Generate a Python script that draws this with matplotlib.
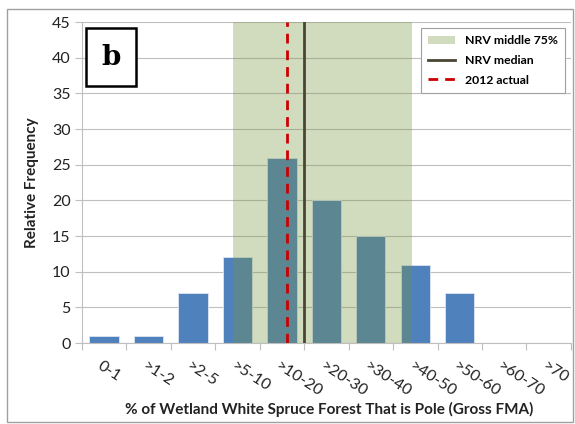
import matplotlib.pyplot as plt
from matplotlib.patches import Patch, Rectangle
from matplotlib.lines import Line2D
import numpy as np

categories = ["0-1", ">1-2", ">2-5", ">5-10", ">10-20", ">20-30", ">30-40",
              ">40-50", ">50-60", ">60-70", ">70"]
frequency = [1, 1, 7, 12, 26, 20, 15, 11, 7, 0, 0]

# NRV range and lines, in category units (bin i centred on i)
nrv_low = 2.91
nrv_high = 6.92
nrv_median = 4.5
actual_2012 = 4.11

plt.rcParams["font.family"] = ["Lato", "DejaVu Sans"]

fig = plt.figure(figsize=(5.75, 4.24), dpi=100)
ax = fig.add_axes([0.142, 0.191, 0.851, 0.757])

x = np.arange(len(categories))
ax.bar(x, frequency, width=0.66, color="#4F81BD", edgecolor="#DCE6F2",
       linewidth=0.6, zorder=2)
ax.axvspan(nrv_low, nrv_high, color="#76923C", alpha=0.33, lw=0, zorder=3)
ax.axvline(nrv_median, color="#4A4532", lw=2, zorder=4)
ax.axvline(actual_2012, color="#CC0000", lw=2, dashes=(3.5, 2.5), zorder=5)

ax.set_xlim(-0.5, len(categories) - 0.5)
ax.set_ylim(0, 45)
ax.set_yticks(range(0, 46, 5))
ax.set_xticks(np.arange(len(categories) + 1) - 0.5)
ax.set_xticklabels([])
ax.tick_params(axis="x", length=5, color="#BFBFBF", width=0.8)
ax.tick_params(axis="y", length=5, color="#BFBFBF", width=0.8,
               labelsize=11.5, labelcolor="#222222", pad=3)
ax.grid(True, axis="y", color="#BFBFBF", lw=0.8, zorder=0)
for s in ["top", "right"]:
    ax.spines[s].set_visible(False)
for s in ["left", "bottom"]:
    ax.spines[s].set_color("#BFBFBF")
    ax.spines[s].set_linewidth(0.8)

for i, lab in enumerate(categories):
    ax.text(i - 0.12, -3.0, lab, rotation=-33, ha="left", va="center",
            rotation_mode="anchor", fontsize=11.5, color="#222222")

ax.set_ylabel("Relative Frequency", fontsize=11, fontweight="bold",
              color="#222222", labelpad=9)
fig.text(0.572, 0.035, "% of Wetland White Spruce Forest That is Pole (Gross FMA)",
         ha="center", va="center", fontsize=11, fontweight="bold",
         color="#222222")

# panel label
fig.text(0.193, 0.865, "b", ha="center", va="center", fontsize=20,
         fontweight="bold", family="DejaVu Serif",
         bbox=dict(boxstyle="square,pad=0.55", fc="white", ec="black", lw=1.8),
         zorder=10)

handles = [Patch(facecolor="#76923C", alpha=0.33, edgecolor="none"),
           Line2D([0], [0], color="#4A4532", lw=2),
           Line2D([0], [0], color="#CC0000", lw=2, dashes=(3.5, 2.5))]
leg = ax.legend(handles, ["NRV middle 75%", "NRV median", "2012 actual"],
                loc="upper right", bbox_to_anchor=(1.0, 1.0), frameon=True,
                fancybox=False, edgecolor="#A0A0A0", framealpha=1,
                prop={"size": 8.8, "weight": "bold"}, handlelength=2.2,
                borderpad=0.6, labelspacing=0.7)
leg.get_frame().set_linewidth(0.8)
leg.set_zorder(10)

fig.patches.append(Rectangle((0.012, 0.005), 0.985, 0.973,
                             transform=fig.transFigure, fill=False,
                             edgecolor="#A0A0A0", lw=1))

fig.savefig("out.png", dpi=100)
